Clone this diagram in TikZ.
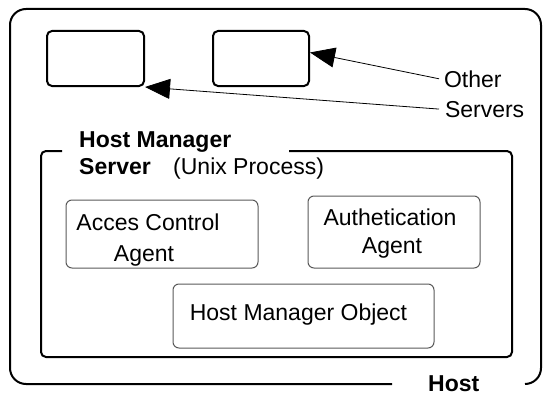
\documentclass[tikz,border=0pt]{standalone}
\usepackage{fontspec}
\setmainfont{Liberation Sans}
\usetikzlibrary{arrows.meta}
\tikzset{
  txt/.style={inner sep=0pt, font=\fontsize{23}{28}\selectfont},
  boldtxt/.style={txt, font=\fontsize{23}{28}\selectfont\bfseries},
  srvbox/.style={draw=black, line width=2pt, rounded corners=5pt, inner sep=0pt},
  agentbox/.style={draw=black!65, line width=1pt, rounded corners=6pt, inner sep=0pt},
  frame/.style={draw=black, line width=2pt},
  pointer/.style={draw=black, line width=0.8pt, -{Triangle[length=25pt,width=20pt]}},
}
\begin{document}
\begin{tikzpicture}[x=1pt,y=-1pt]
\useasboundingbox (0,0) rectangle (543,396);

% host frame (open at the bottom right for its label)
\draw[frame, rounded corners=16pt] (392,384) -- (10,384) -- (10,9) -- (541,9) -- (541,384) -- (525,384);
\node[boldtxt, anchor=base west] (hostlbl) at (428,391.5) {Host};

% host manager server frame (open at the top left for its title)
\draw[frame, rounded corners=5pt] (62,151) -- (41,151) -- (41,357) -- (512,357) -- (512,151) -- (289,151);
\node[boldtxt, anchor=base west] (hmtitle) at (79,147) {Host Manager};
\node[boldtxt, anchor=base west] (hmserver) at (79,174) {Server};
\node[txt, anchor=base west] (unix) at (173,174) {(Unix Process)};

% other servers
\node[srvbox, minimum width=97pt, minimum height=55pt] (srvA) at (95.5,58.5) {};
\node[srvbox, minimum width=96pt, minimum height=55pt] (srvB) at (261,58.5) {};

\node[txt, anchor=base west, outer xsep=5pt] (other) at (439,87) {Other};
\node[txt, anchor=base west, outer xsep=6pt] (servers) at (439,117) {Servers};

\draw[pointer] (other.west) -- (srvB.7);
\draw[pointer] (servers.west) -- (srvA.south east);

% agents
\node[agentbox, minimum width=192pt, minimum height=68pt] (acc) at (162,234) {};
\node[txt, align=center, anchor=base] (acct) at (148,230) {Acces Control};
\node[txt, anchor=base] (acct2) at (144,261) {Agent};

\node[agentbox, minimum width=172pt, minimum height=72pt] (auth) at (394,232) {};
\node[txt, anchor=base] (autht) at (390,225) {Authetication};
\node[txt, anchor=base] (autht2) at (392,253) {Agent};

\node[agentbox, minimum width=261pt, minimum height=64pt] (hmo) at (303.5,316) {};
\node[txt, anchor=base] (hmot) at (298.5,320) {Host Manager Object};
\end{tikzpicture}
\end{document}
